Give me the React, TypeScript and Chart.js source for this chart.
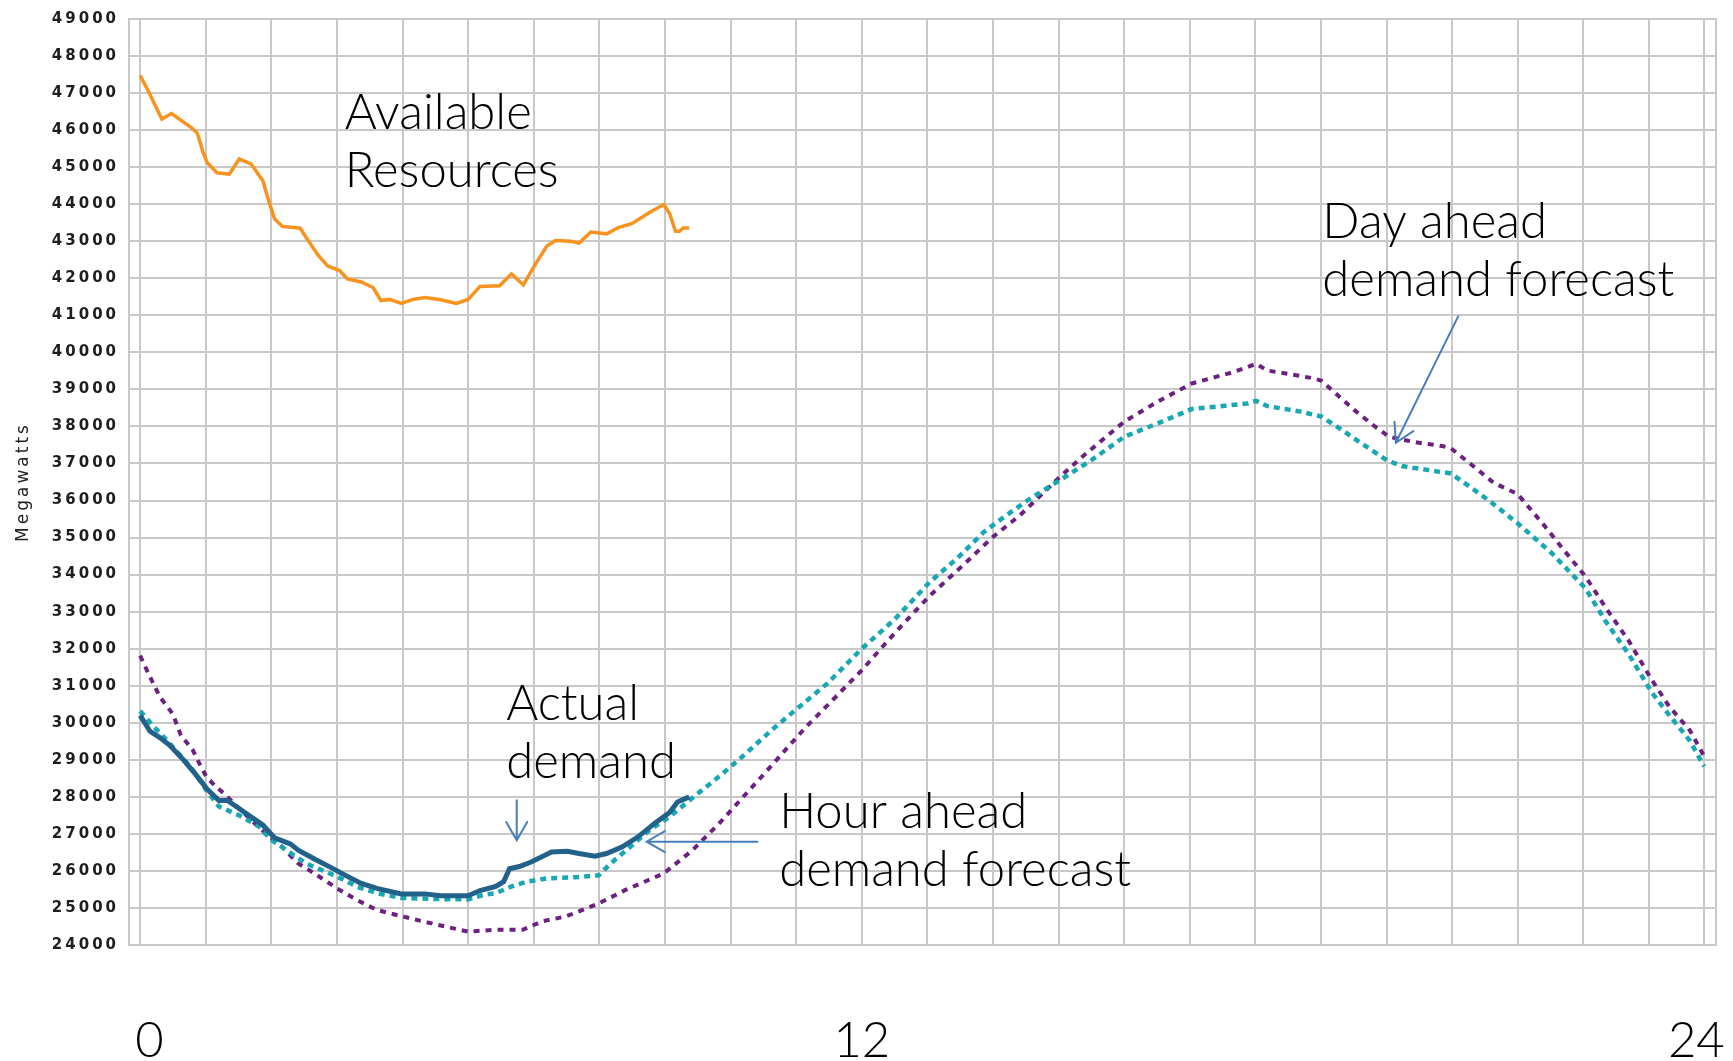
import React, { useEffect, useRef } from "react";
import { Chart, registerables } from "chart.js";

Chart.register(...registerables);

// ---------- data (hour of day, megawatts) ----------
const availHours = [0, 0.12, 0.33, 0.48, 0.78, 0.87, 0.96, 1.02, 1.17, 1.36, 1.51, 1.69, 1.87, 1.96, 2.05, 2.17, 2.44, 2.53, 2.71, 2.86, 3.04, 3.16, 3.37, 3.55, 3.67, 3.8, 3.98, 4.16, 4.34, 4.58, 4.82, 5.0, 5.18, 5.48, 5.66, 5.84, 6.02, 6.2, 6.33, 6.57, 6.69, 6.87, 7.11, 7.29, 7.5, 7.77, 7.98, 8.07, 8.16, 8.22, 8.28, 8.37];
const availMW = [47470, 47070, 46300, 46450, 46070, 45920, 45400, 45130, 44850, 44810, 45220, 45090, 44630, 44090, 43600, 43400, 43350, 43100, 42630, 42330, 42210, 41980, 41900, 41750, 41400, 41430, 41320, 41430, 41480, 41420, 41320, 41430, 41780, 41800, 42120, 41820, 42370, 42870, 43020, 43000, 42950, 43250, 43200, 43370, 43480, 43780, 43990, 43750, 43270, 43270, 43360, 43360];

const actualHours = [0, 0.15, 0.3, 0.45, 0.66, 0.84, 1.02, 1.2, 1.33, 1.48, 1.69, 1.87, 2.05, 2.29, 2.41, 2.65, 2.89, 3.13, 3.37, 3.61, 3.98, 4.34, 4.58, 5.0, 5.18, 5.42, 5.54, 5.63, 5.78, 5.96, 6.27, 6.51, 6.69, 6.93, 7.11, 7.35, 7.59, 7.83, 8.07, 8.19, 8.37];
const actualMW = [30200, 29770, 29600, 29390, 29000, 28620, 28210, 27900, 27900, 27720, 27460, 27240, 26890, 26730, 26560, 26330, 26110, 25880, 25660, 25530, 25380, 25380, 25330, 25330, 25470, 25580, 25710, 26060, 26120, 26240, 26510, 26530, 26470, 26400, 26470, 26650, 26920, 27270, 27580, 27860, 28000];

const hourAheadHours = [0, 0.18, 0.42, 0.78, 1.02, 1.2, 1.51, 1.81, 1.99, 2.23, 2.53, 2.77, 3.01, 3.31, 3.61, 3.98, 4.52, 5.0, 5.24, 5.42, 5.66, 5.9, 6.2, 6.63, 6.99, 7.17, 7.47, 7.77, 8.07, 8.43, 8.84, 9.2, 9.67, 10.0, 10.48, 11.0, 11.5, 12.03, 12.46, 12.86, 13.14, 13.54, 14.02, 14.5, 15.0, 15.52, 16.03, 16.54, 16.88, 17.01, 17.18, 17.49, 17.69, 18.0, 18.3, 18.61, 19.0, 19.23, 19.64, 19.98, 20.27, 20.58, 21.0, 21.51, 22.03, 22.33, 22.69, 23.04, 23.31, 23.62, 23.84];
const hourAheadMW = [30320, 29950, 29500, 28780, 28150, 27740, 27500, 27200, 26850, 26560, 26200, 26020, 25840, 25570, 25400, 25270, 25240, 25230, 25360, 25400, 25580, 25710, 25800, 25830, 25880, 26200, 26650, 27110, 27460, 27990, 28570, 29120, 29870, 30360, 31070, 32000, 32790, 33790, 34450, 35150, 35520, 36020, 36550, 37090, 37720, 38090, 38470, 38560, 38620, 38690, 38550, 38460, 38400, 38270, 37930, 37550, 37090, 36930, 36820, 36730, 36370, 35970, 35380, 34590, 33630, 32760, 31850, 30820, 30200, 29520, 28820];

const dayAheadHours = [0, 0.15, 0.3, 0.5, 0.62, 0.8, 0.9, 1.01, 1.14, 1.29, 1.49, 1.69, 1.9, 2.15, 2.41, 2.65, 3.0, 3.3, 3.6, 4.0, 4.52, 5.0, 5.4, 5.83, 6.13, 6.49, 7.0, 7.39, 7.98, 8.42, 8.83, 9.5, 10.14, 10.62, 11.0, 11.5, 12.03, 12.59, 13.0, 13.41, 14.02, 14.36, 15.0, 15.52, 16.03, 16.67, 17.01, 17.18, 17.49, 17.85, 18.0, 18.2, 18.51, 18.82, 19.03, 19.24, 19.49, 19.85, 19.98, 20.27, 20.63, 21.0, 21.4, 21.72, 22.03, 22.33, 22.69, 23.04, 23.31, 23.62, 23.84];
const dayAheadMW = [31810, 31240, 30700, 30230, 29660, 29270, 28910, 28540, 28300, 28070, 27720, 27380, 27030, 26670, 26200, 25940, 25530, 25220, 24950, 24770, 24550, 24360, 24410, 24410, 24640, 24770, 25130, 25480, 25930, 26560, 27290, 28600, 29870, 30730, 31420, 32420, 33420, 34330, 35020, 35600, 36640, 37180, 38130, 38680, 39160, 39470, 39690, 39510, 39420, 39310, 39240, 38930, 38440, 38000, 37730, 37640, 37560, 37470, 37410, 37000, 36480, 36170, 35330, 34620, 33950, 33130, 32210, 31160, 30430, 29800, 29090];

// axis
const yMin = 24000;
const yMax = 49000;
const yStep = 1000;
const xGridHours = [0, 1, 2, 3, 4, 5, 6, 7, 8, 9, 10, 11, 12, 13, 14, 15, 16, 17, 18, 19, 20, 21, 22, 23, 23.84];
const xTickLabels = ["0", "12", "24"];
const xTickLabelHours = [0.14, 11.0, 23.72];
const yTitle = "Megawatts";

// annotation texts (anchor = hour, MW of first baseline)
const noteLines = [["Available", "Resources"], ["Actual", "demand"], ["Hour ahead", "demand forecast"], ["Day ahead", "demand forecast"]];
const noteHours = [3.12, 5.58, 9.74, 18.02];
const noteMW = [46030, 30070, 27150, 43090];

// arrows (from -> to, in hour / MW)
const arrowFromHours = [5.74, 9.41, 20.09];
const arrowFromMW = [27910, 26790, 40970];
const arrowToHours = [5.74, 7.72, 19.14];
const arrowToMW = [26830, 26790, 37560];

const toPts = (xs: number[], ys: number[]) => xs.map((x, i) => ({ x, y: ys[i] }));

const ANNO_FONT = '300 49px Lato, "Open Sans", sans-serif';

export default function App() {
  const ref = useRef<HTMLCanvasElement | null>(null);

  useEffect(() => {
    const canvas = ref.current;
    if (!canvas) return;

    const spacingPlugin = {
      id: "spacing",
      beforeDraw(chart: any) {
        (chart.ctx as any).letterSpacing = "3px";
      },
      afterDraw(chart: any) {
        (chart.ctx as any).letterSpacing = "0px";
      },
    };

    const framePlugin = {
      id: "frame",
      beforeDatasetsDraw(chart: any) {
        const { ctx, chartArea: a } = chart;
        ctx.save();
        ctx.strokeStyle = "#c8c8c8";
        ctx.lineWidth = 2;
        ctx.strokeRect(a.left, a.top, a.right - a.left, a.bottom - a.top);
        ctx.restore();
      },
    };

    const notesPlugin = {
      id: "notes",
      afterDraw(chart: any) {
        const { ctx, chartArea } = chart;
        const xs = chart.scales.x;
        const ys = chart.scales.y;
        ctx.save();
        (ctx as any).letterSpacing = "0px";
        // arrows
        ctx.strokeStyle = "#4a7ebb";
        ctx.lineWidth = 2;
        ctx.lineCap = "round";
        arrowFromHours.forEach((fh, i) => {
          const x1 = xs.getPixelForValue(fh);
          const y1 = ys.getPixelForValue(arrowFromMW[i]);
          const x2 = xs.getPixelForValue(arrowToHours[i]);
          const y2 = ys.getPixelForValue(arrowToMW[i]);
          const ang = Math.atan2(y2 - y1, x2 - x1);
          const L = 21;
          const w = Math.PI / 6;
          ctx.beginPath();
          ctx.moveTo(x1, y1);
          ctx.lineTo(x2, y2);
          ctx.moveTo(x2 - L * Math.cos(ang - w), y2 - L * Math.sin(ang - w));
          ctx.lineTo(x2, y2);
          ctx.lineTo(x2 - L * Math.cos(ang + w), y2 - L * Math.sin(ang + w));
          ctx.stroke();
        });
        // texts
        ctx.fillStyle = "#000";
        ctx.font = ANNO_FONT;
        ctx.textAlign = "left";
        ctx.textBaseline = "alphabetic";
        noteLines.forEach((lines, i) => {
          const x = xs.getPixelForValue(noteHours[i]);
          const y = ys.getPixelForValue(noteMW[i]);
          lines.forEach((t, j) => ctx.fillText(t, x, y + j * 58));
        });
        // x labels
        ctx.textAlign = "center";
        xTickLabels.forEach((t, i) => {
          ctx.fillText(t, xs.getPixelForValue(xTickLabelHours[i]), chartArea.bottom + 112);
        });
        ctx.restore();
      },
    };

    const chart = new Chart(canvas, {
      type: "line",
      data: {
        datasets: [
          {
            label: "Available Resources",
            data: toPts(availHours, availMW),
            borderColor: "#f7931e",
            borderWidth: 3.5,
            pointRadius: 0,
            tension: 0,
            order: 0,
          },
          {
            label: "Actual demand",
            data: toPts(actualHours, actualMW),
            borderColor: "#22628a",
            borderWidth: 5,
            pointRadius: 0,
            tension: 0,
            order: 1,
          },
          {
            label: "Hour ahead demand forecast",
            data: toPts(hourAheadHours, hourAheadMW),
            borderColor: "#17a8b3",
            borderWidth: 4.5,
            borderDash: [6, 5],
            pointRadius: 0,
            tension: 0,
            order: 2,
          },
          {
            label: "Day ahead demand forecast",
            data: toPts(dayAheadHours, dayAheadMW),
            borderColor: "#6c2181",
            borderWidth: 4,
            borderDash: [6, 6],
            pointRadius: 0,
            tension: 0,
            order: 3,
          },
        ],
      },
      options: {
        animation: false,
        responsive: false,
        devicePixelRatio: 1,
        layout: { padding: { top: 18, right: 17, bottom: 116, left: 0 } },
        plugins: { legend: { display: false }, tooltip: { enabled: false }, title: { display: false } },
        scales: {
          x: {
            type: "linear",
            min: -0.17,
            max: 24.02,
            afterBuildTicks: (scale: any) => {
              scale.ticks = xGridHours.map((v) => ({ value: v }));
            },
            afterFit: (scale: any) => {
              scale.height = 0;
            },
            ticks: { display: false },
            grid: { color: "#c8c8c8", lineWidth: 2, drawTicks: false },
            border: { display: false },
          },
          y: {
            type: "linear",
            min: yMin,
            max: yMax,
            afterFit: (scale: any) => {
              scale.width = 129;
            },
            ticks: {
              stepSize: yStep,
              padding: 10,
              color: "#1e1e1e",
              font: { family: "DejaVu Sans", size: 15, weight: "bold" },
              callback: (v: any) => String(v),
            },
            title: {
              display: true,
              text: yTitle,
              color: "#222",
              font: { family: "DejaVu Sans", size: 17 },
              padding: { top: 13, bottom: 0 },
            },
            grid: { color: "#c8c8c8", lineWidth: 2, drawTicks: false },
            border: { display: true, color: "#c8c8c8", width: 2 },
          },
        },
      },
      plugins: [spacingPlugin, framePlugin, notesPlugin],
    } as any);

    return () => chart.destroy();
  }, []);

  return (
    <div style={{ position: "fixed", left: 0, top: 0, width: 1733, height: 1061, background: "#fff" }}>
      <canvas ref={ref} width={1733} height={1061} style={{ display: "block" }} />
    </div>
  );
}
